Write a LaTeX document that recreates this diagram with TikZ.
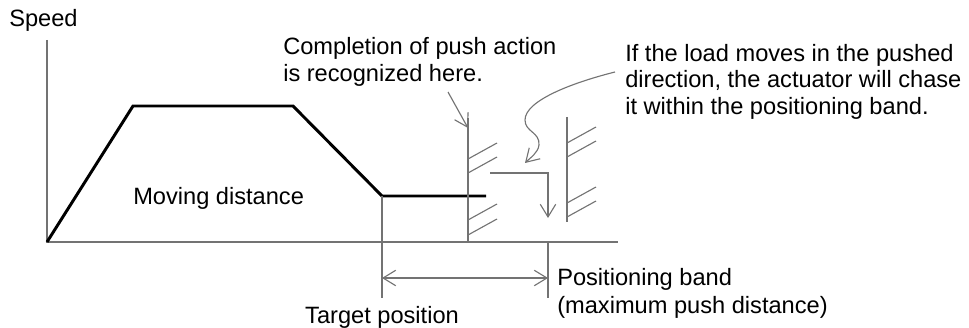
\documentclass[tikz,border=0pt]{standalone}
\usepackage{fontspec}
\setmainfont{Liberation Sans}
\usetikzlibrary{arrows.meta}
\definecolor{linegray}{gray}{0.45}
\begin{document}
\begin{tikzpicture}[x=0.025cm, y=-0.025cm,
  thinline/.style={linegray, line width=0.8pt},
  profile/.style={black, line width=2.1pt, line join=miter},
  barb/.style={-{Straight Barb[length=9pt,width=11pt]}},
  bothbarb/.style={{Straight Barb[length=9pt,width=11pt]}-{Straight Barb[length=9pt,width=11pt]}},
  lbl/.style={font=\fontsize{16.8}{19.2}\selectfont, inner sep=0pt, align=left}]

\useasboundingbox (0,0) rectangle (969,328);

\def\xo{47}
\def\yo{242}
\def\xt{382}
\def\xwa{468}
\def\xwb{567}
\def\xb{548}

%==== axes ====
\draw[thinline] (\xo,40) -- (\xo,\yo) -- (618,\yo);
\node[lbl, anchor=base west] (speed) at (9,27) {Speed};

%==== speed profile ====
\coordinate (p0) at (\xo,\yo);
\coordinate (p1) at (133,106);
\coordinate (p2) at (293,106);
\coordinate (p3) at (\xt,196);
\coordinate (p4) at (486,196);
\draw[profile] (p0) -- (p1) -- (p2) -- (p3) -- (p4);
\node[lbl, anchor=base west] (dist) at (133,205) {Moving distance};

%==== walls with hatching ====
\draw[thinline] (\xwa,118) -- (\xwa,\yo);
\foreach \y in {159,173,220,235}
  \draw[thinline] (\xwa,\y) -- ++(29,-16);
\draw[thinline] (\xwb,117) -- (\xwb,222);
\foreach \y in {143,157,203,217}
  \draw[thinline] (\xwb,\y) -- ++(29,-16);

%==== chase step ====
\coordinate (c0) at (490,173);
\coordinate (c1) at (\xb,173);
\coordinate (c2) at (\xb,218);
\draw[thinline, barb] (c0) -- (c1) -- (c2);

%==== band and target ====
\coordinate (tgt) at (\xt,298);
\coordinate (bnd) at (\xb,298);
\draw[thinline] (p3) -- (tgt);
\draw[thinline] (\xb,\yo) -- (bnd);
\coordinate (da) at (\xt,278);
\coordinate (db) at (\xb,278);
\draw[thinline, bothbarb] (da) -- (db);
\node[lbl, anchor=base] (target) at (\xt,323) {Target position};
\node[lbl, anchor=base west] (band) at (557,285) {Positioning band};
\node[lbl, anchor=base west] (maxpush) at (557,313) {(maximum push distance)};

%==== notes ====
\node[lbl, anchor=base west] (done1) at (283,55) {Completion of push action};
\node[lbl, anchor=base west] (done2) at (283,82) {is recognized here.};
\coordinate (hit) at (\xwa,128);
\draw[thinline, barb] (448,92) -- (hit);

\node[lbl, anchor=base west] (chase1) at (625,62) {If the load moves in the pushed};
\node[lbl, anchor=base west] (chase2) at (625,88) {direction, the actuator will chase};
\node[lbl, anchor=base west] (chase3) at (625,115) {it within the positioning band.};
\coordinate (sq) at (615,72);
\coordinate (sqend) at (525,163);
\draw[thinline, barb] (sq) .. controls (575,82) and (525,100) .. (525,120)
  .. controls (525,132) and (540,132) .. (539,145)
  .. controls (538,153) and (530,158) .. (sqend);

\end{tikzpicture}
\end{document}
